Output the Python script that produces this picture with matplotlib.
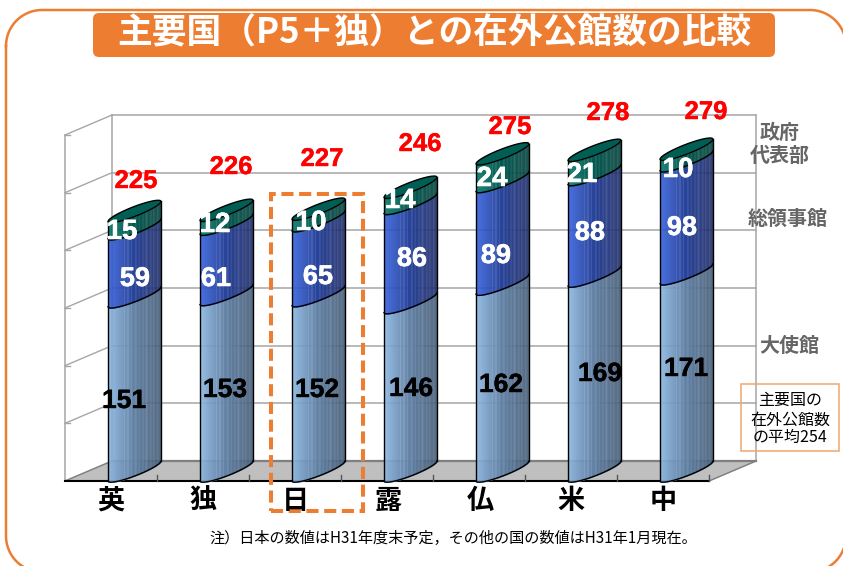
import numpy as np
import matplotlib
matplotlib.use('Agg')
import matplotlib.pyplot as plt
import matplotlib.patheffects as pe
from matplotlib.patches import FancyBboxPatch, Rectangle

JP = ['Noto Sans CJK JP', 'DejaVu Sans']
LATIN = ['Liberation Sans', 'DejaVu Sans']

countries = ['英', '独', '日', '露', '仏', '米', '中']
embassies = [151, 153, 152, 146, 162, 169, 171]
consulates = [59, 61, 65, 86, 89, 88, 98]
delegations = [15, 12, 10, 14, 24, 21, 10]
totals = [225, 226, 227, 246, 275, 278, 279]

title = '主要国（P5＋独）との在外公館数の比較'
note = '注）日本の数値はH31年度末予定，その他の国の数値はH31年1月現在。'
average_note = ['主要国の', '在外公館数', 'の平均254']

# label centres in image pixels, the original placed them by hand
total_pos = [(136, 179), (231, 165), (322, 157), (420, 142), (510, 125), (608, 111), (706, 110)]
embassy_pos = [(124, 399), (225, 388), (317, 388), (411, 387), (501, 383), (600, 372), (686, 367)]
consulate_pos = [(135, 277), (216, 277), (318, 275), (412, 257), (496, 254), (590, 231), (682, 226)]
delegation_pos = [(122, 230), (215, 223), (311, 221), (400, 199), (492, 177), (582, 173), (678, 168)]
country_pos = [111, 203, 295, 388, 480, 571, 663]

ORANGE = '#ED7D31'
GRID = '#A6A6A6'
BLUES = {
    'embassy': ('#8FBDEB', '#435A76'),
    'consulate': ('#3363E6', '#1C2A66'),
    'delegation': ('#007A6C', '#003F3A'),
}

# depth of the fake 3D box, in data units
DX = 47 / 92
DY = 20 / (346 / 300)
BAR_LEFT = 43 / 92
BAR_W = 53 / 92
SAG = 4.4
COLS = 54
STRIPES = [0.3, 0.37, 0.43, 0.52, 0.58, 0.66, 0.72, 0.8, 0.86, 0.93]


def front(u):
    return DY * u - SAG * 2 * np.sqrt(u * (1 - u))


def back(u):
    return DY * u + SAG * 2 * np.sqrt(u * (1 - u))


def shade(pair, u):
    a = np.array(matplotlib.colors.to_rgb(pair[0]))
    b = np.array(matplotlib.colors.to_rgb(pair[1]))
    col = a + (b - a) * u ** 0.7
    if any(abs(u - s) < 0.012 for s in STRIPES):
        col = col + (1 - col) * 0.11
    return col


def draw_segment(ax, x0, v0, v1, pair):
    edges = np.linspace(0, 1, COLS + 1)
    for i in range(COLS):
        uu = np.linspace(edges[i], edges[i + 1], 4)
        ax.fill_between(x0 + uu * BAR_W, v0 + front(uu), v1 + front(uu),
                        color=shade(pair, (edges[i] + edges[i + 1]) / 2),
                        lw=0.25, clip_on=False, zorder=3)


def number(axis, pos, value, color, size, stroke):
    t = axis.text(pos[0], 566 - pos[1] - 2, str(value), color=color, fontsize=size,
                  fontweight='bold', family=LATIN, ha='center', va='center')
    t.set_path_effects([pe.withStroke(linewidth=stroke, foreground=color)])


def rounded_outline(left, right, top_y, bottom_y, r):
    # plain polyline, the fancy box bends badly where it leaves the canvas
    t = np.linspace(0, np.pi / 2, 40)
    xs = np.r_[left + r - r * np.cos(t), right - r + r * np.sin(t),
               right - r + r * np.cos(t), left + r - r * np.sin(t), left]
    ys = np.r_[top_y - r + r * np.sin(t), top_y - r + r * np.cos(t),
               bottom_y + r - r * np.sin(t), bottom_y + r - r * np.cos(t), top_y - r]
    return xs, ys


fig = plt.figure(figsize=(8.43, 5.66), dpi=100)

# chart axes: front plane of the box
ax = fig.add_axes([65 / 843, (566 - 481) / 566, 644 / 843, 346 / 566])
ax.set_xlim(0, 7)
ax.set_ylim(0, 300)
ax.axis('off')

# walls
for v in range(50, 301, 50):
    ax.plot([DX, 7 + DX], [v + DY, v + DY], color=GRID, lw=1.1, clip_on=False, zorder=1)
    ax.plot([0, DX], [v, v + DY], color=GRID, lw=1.0, clip_on=False, zorder=1)
    ax.plot([0, 0.055], [v, v], color=GRID, lw=1.0, clip_on=False, zorder=1)
ax.plot([DX, DX], [DY, 300 + DY], color=GRID, lw=1.1, clip_on=False, zorder=1)
ax.plot([7 + DX, 7 + DX], [DY, 300 + DY], color=GRID, lw=1.1, clip_on=False, zorder=1)
ax.plot([0, 0], [0, 300], color=GRID, lw=1.1, clip_on=False, zorder=1)

# floor
ax.fill([0, 7, 7 + DX, DX], [0, 0, DY, DY], color='#BFBFBF', clip_on=False, zorder=2)
ax.plot([DX, 7 + DX], [DY, DY], color='#7F7F7F', lw=1.6, clip_on=False, zorder=2)
ax.plot([7, 7 + DX], [0, DY], color='#7F7F7F', lw=1.0, clip_on=False, zorder=2)
ax.plot([0, DX], [0, DY], color='#7F7F7F', lw=1.0, clip_on=False, zorder=2)
ax.plot([0, 7], [0, 0], color='black', lw=1.5, clip_on=False, zorder=2)
for k in range(1, 8):
    ax.plot([k, k], [0, 5], color='#555555', lw=1.0, clip_on=False, zorder=2)

# bars
uu = np.linspace(0, 1, 80)
for k in range(len(countries)):
    x0 = k + BAR_LEFT
    a = embassies[k]
    b = a + consulates[k]
    c = b + delegations[k]
    draw_segment(ax, x0, 0, a, BLUES['embassy'])
    draw_segment(ax, x0, a, b, BLUES['consulate'])
    draw_segment(ax, x0, b, c, BLUES['delegation'])
    # top cap
    ax.fill(np.r_[x0 + uu * BAR_W, x0 + uu[::-1] * BAR_W],
            np.r_[c + front(uu), c + back(uu[::-1])],
            color='#005E54', ec='black', lw=1.0, clip_on=False, zorder=4)
    for v in (0, a, b):
        ax.plot(x0 + uu * BAR_W, v + front(uu), color='black', lw=1.0, clip_on=False, zorder=4)
    ax.plot([x0, x0], [0, c], color='black', lw=1.0, clip_on=False, zorder=4)
    ax.plot([x0 + BAR_W, x0 + BAR_W], [DY, c + DY], color='black', lw=1.0, clip_on=False, zorder=4)

# overlay axes in image pixels (y measured from the bottom) for the slide furniture
top = fig.add_axes([0, 0, 1, 1], zorder=5)
top.set_xlim(0, 843)
top.set_ylim(0, 566)
top.axis('off')
top.patch.set_alpha(0)

top.plot(*rounded_outline(6, 846, 556, -6, 36), color=ORANGE, lw=1.8)
top.add_patch(FancyBboxPatch((93, 566 - 57), 682, 44, boxstyle='round,pad=0,rounding_size=6',
                             fc=ORANGE, ec='none'))
top.text(434, 566 - 33, title, color='white', fontsize=25, fontweight='bold', family=JP,
         ha='center', va='center')

top.add_patch(Rectangle((270.5, 566 - 510.5), 92.5, 317, fc='none', ec=ORANGE, lw=2.9,
                        ls=(0, (3.0, 1.4))))

for i in range(len(countries)):
    number(top, total_pos[i], totals[i], '#FF0000', 18.5, 0.3)
    number(top, embassy_pos[i], embassies[i], 'black', 19, 0.3)
    number(top, consulate_pos[i], consulates[i], 'white', 19.5, 0.4)
    number(top, delegation_pos[i], delegations[i], 'white', 20, 0.4)
    top.text(country_pos[i], 566 - 501, countries[i], color='black', fontsize=19.5,
             fontweight='bold', family=JP, ha='center', va='center')

for label, x, y in [('政府', 780, 132), ('代表部', 780, 156), ('総領事館', 788, 218), ('大使館', 789, 346)]:
    top.text(x, 566 - y, label, color='#666666', fontsize=14.4, fontweight='bold', family=JP,
             ha='center', va='center')

top.add_patch(Rectangle((741, 566 - 451), 98, 67, fc='none', ec='#F4A46A', lw=1.1))
for line, y in zip(average_note, [400, 420, 437]):
    top.text(790, 566 - y, line, color='black', fontsize=11.5, family=JP, ha='center', va='center')

top.text(453.5, 566 - 538, note, color='black', fontsize=10.9, family=JP, ha='center', va='center')

fig.savefig('out.png', dpi=100)
